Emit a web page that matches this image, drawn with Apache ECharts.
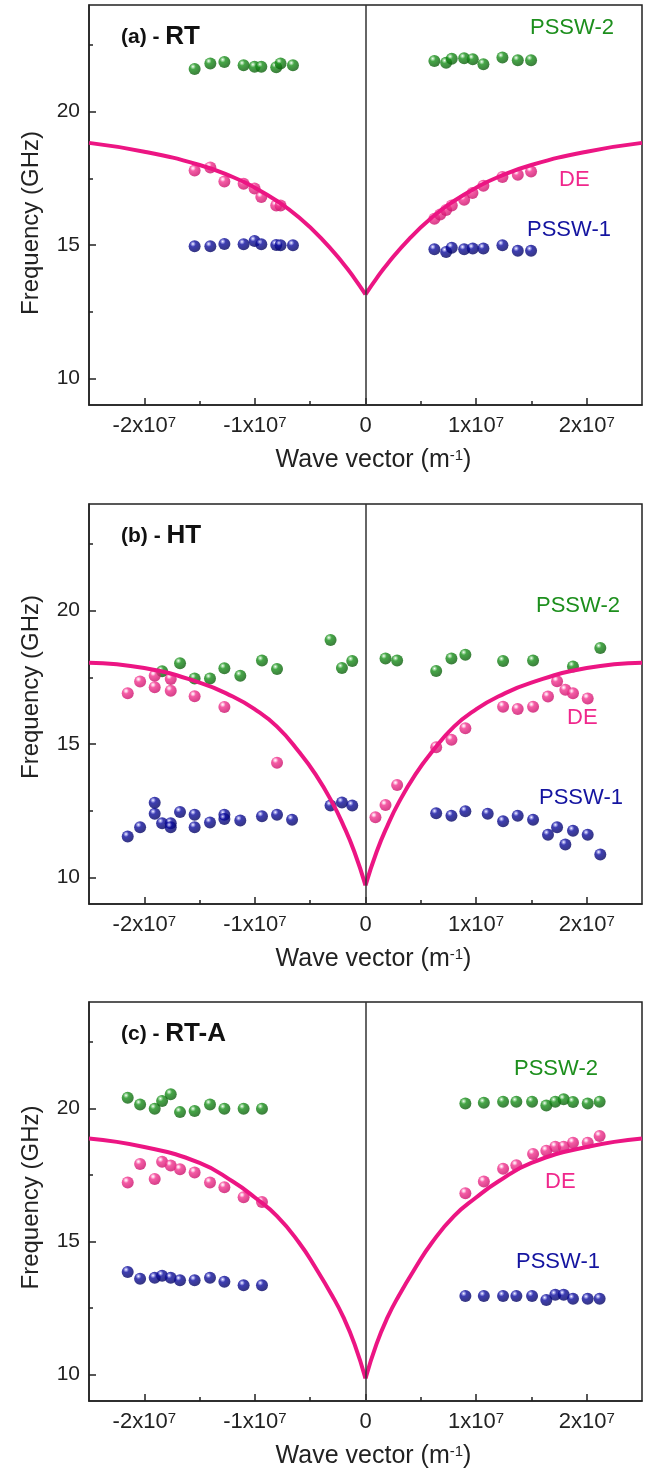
<!DOCTYPE html>
<html><head><meta charset="utf-8">
<script src="https://cdn.jsdelivr.net/npm/echarts@6/dist/echarts.min.js"></script>
<style>html,body{margin:0;padding:0;background:#fff}#c{width:645px;height:1470px}</style>
</head><body><div id="c"></div>
<script>
// ---------- data (k in units of 10^7 m^-1, f in GHz) ----------
const xTickValues = [-2, -1, 0, 1, 2];
const xMinorTicks = [-1.5, -0.5, 0.5, 1.5];
const yTickValues = [10, 15, 20];
const yMinorTicks = [12.5, 17.5, 22.5];
const panelTags = ['(a) - ', '(b) - ', '(c) - '];
const panelNames = ['RT', 'HT', 'RT-A'];
const seriesNames = ['PSSW-2', 'DE', 'PSSW-1'];

// Panel (a) RT
const aPSSW2 = [[-1.545,21.60],[-1.403,21.81],[-1.276,21.86],[-1.102,21.74],[-1.003,21.68],[-0.942,21.68],[-0.807,21.67],[-0.768,21.81],[-0.656,21.74],
  [0.623,21.90],[0.729,21.83],[0.780,21.98],[0.892,22.00],[0.970,21.97],[1.066,21.78],[1.238,22.03],[1.377,21.93],[1.497,21.93]];
const aDE = [[-1.545,17.79],[-1.403,17.91],[-1.276,17.38],[-1.102,17.30],[-1.003,17.12],[-0.942,16.80],[-0.807,16.48],[-0.768,16.48],
  [0.623,15.98],[0.675,16.14],[0.729,16.31],[0.780,16.48],[0.892,16.70],[0.967,16.95],[1.066,17.22],[1.238,17.55],[1.377,17.63],[1.497,17.76]];
const aPSSW1 = [[-1.545,14.95],[-1.403,14.95],[-1.276,15.04],[-1.102,15.03],[-1.003,15.15],[-0.942,15.03],[-0.807,15.00],[-0.768,14.99],[-0.656,14.99],
  [0.623,14.84],[0.729,14.74],[0.780,14.90],[0.892,14.84],[0.970,14.87],[1.066,14.87],[1.238,14.99],[1.377,14.78],[1.497,14.78]];
const aFitLeft = [[-2.5,18.83],[-2.0,18.5],[-1.5,18.0],[-1.2,17.55],[-1.0,17.15],[-0.8,16.65],[-0.6,16.03],[-0.4,15.25],[-0.2,14.3],[-0.1,13.75],[0,13.15]];
const aFitRight = [[0,13.15],[0.1,13.75],[0.2,14.3],[0.4,15.25],[0.6,16.03],[0.8,16.65],[1.0,17.15],[1.2,17.55],[1.5,18.0],[2.0,18.5],[2.5,18.83]];

// Panel (b) HT
const bPSSW2 = [[-1.839,17.73],[-1.677,18.03],[-1.545,17.46],[-1.406,17.46],[-1.276,17.84],[-1.132,17.56],[-0.936,18.13],[-0.800,17.81],[-0.316,18.90],[-0.213,17.85],[-0.120,18.11],
  [0.181,18.21],[0.286,18.13],[0.639,17.74],[0.777,18.21],[0.903,18.35],[1.244,18.11],[1.515,18.13],[1.876,17.91],[2.123,18.60]];
const bDE = [[-2.150,16.90],[-2.038,17.34],[-1.906,17.56],[-1.906,17.13],[-1.761,17.44],[-1.761,17.00],[-1.545,16.79],[-1.276,16.39],[-0.800,14.30],
  [0.090,12.25],[0.181,12.71],[0.286,13.46],[0.639,14.88],[0.777,15.16],[0.903,15.59],[1.244,16.40],[1.376,16.31],[1.515,16.40],[1.650,16.78],[1.732,17.35],[1.807,17.03],[1.876,16.90],[2.009,16.71]];
const bPSSW1 = [[-2.150,11.53],[-2.038,11.88],[-1.906,12.80],[-1.906,12.38],[-1.839,12.03],[-1.761,12.03],[-1.761,11.88],[-1.677,12.45],[-1.545,12.35],[-1.545,11.88],[-1.406,12.06],[-1.276,12.35],[-1.276,12.19],[-1.132,12.13],[-0.936,12.29],[-0.800,12.35],[-0.664,12.16],[-0.316,12.69],[-0.213,12.81],[-0.120,12.69],
  [0.639,12.40],[0.777,12.31],[0.903,12.48],[1.105,12.38],[1.244,12.10],[1.376,12.31],[1.515,12.16],[1.650,11.60],[1.732,11.88],[1.807,11.23],[1.876,11.75],[2.009,11.60],[2.123,10.86]];
const bFitLeft = [[-2.5,18.05],[-2.0,17.85],[-1.5,17.3],[-1.2,16.78],[-1.0,16.3],[-0.8,15.65],[-0.6,14.7],[-0.45,13.85],[-0.3,12.8],[-0.2,11.95],[-0.1,10.95],[0,9.7]];
const bFitRight = [[0,9.7],[0.1,10.95],[0.2,11.95],[0.3,12.8],[0.45,13.85],[0.6,14.7],[0.8,15.65],[1.0,16.3],[1.2,16.78],[1.5,17.3],[2.0,17.85],[2.5,18.05]];

// Panel (c) RT-A
const cPSSW2 = [[-2.150,20.40],[-2.038,20.15],[-1.906,19.99],[-1.839,20.28],[-1.761,20.53],[-1.677,19.86],[-1.545,19.90],[-1.406,20.15],[-1.276,19.99],[-1.102,19.99],[-0.936,19.99],
  [0.903,20.18],[1.070,20.21],[1.244,20.25],[1.364,20.25],[1.506,20.25],[1.635,20.11],[1.716,20.25],[1.792,20.34],[1.876,20.24],[2.009,20.18],[2.117,20.25]];
const cDE = [[-2.150,17.21],[-2.038,17.91],[-1.906,17.35],[-1.839,17.99],[-1.761,17.85],[-1.677,17.71],[-1.545,17.59],[-1.406,17.21],[-1.276,17.04],[-1.102,16.66],[-0.936,16.48],
  [0.903,16.81],[1.070,17.25],[1.244,17.73],[1.364,17.86],[1.515,18.29],[1.635,18.41],[1.716,18.56],[1.792,18.56],[1.876,18.71],[2.009,18.71],[2.117,18.96]];
const cPSSW1 = [[-2.150,13.85],[-2.038,13.60],[-1.906,13.63],[-1.839,13.71],[-1.761,13.63],[-1.677,13.54],[-1.545,13.54],[-1.406,13.63],[-1.276,13.48],[-1.102,13.35],[-0.936,13.35],
  [0.903,12.95],[1.070,12.95],[1.244,12.95],[1.364,12.95],[1.506,12.95],[1.635,12.80],[1.716,12.99],[1.792,12.99],[1.876,12.84],[2.009,12.84],[2.117,12.84]];
const cFitLeft = [[-2.5,18.87],[-2.0,18.55],[-1.5,17.95],[-1.2,17.25],[-1.0,16.65],[-0.8,15.95],[-0.6,14.95],[-0.45,14.0],[-0.3,12.95],[-0.2,12.15],[-0.1,11.15],[0,9.85]];
const cFitRight = [[0,9.85],[0.1,11.15],[0.2,12.15],[0.3,12.95],[0.45,14.0],[0.6,14.95],[0.8,15.95],[1.0,16.65],[1.2,17.25],[1.5,17.95],[2.0,18.55],[2.5,18.87]];

// ---------- styling / layout ----------
const FONT = '"Liberation Sans", Arial, Helvetica, sans-serif';
const AX = '#222';
const GREEN = '#1d8f1d', BLUE = '#1414a0', PINK = '#f0288c', LINE = '#ec1583';
function sphere(light, mid, dark) {
  return {type:'radial', x:0.36, y:0.3, r:0.75, colorStops:[
    {offset:0, color:'#ffffff'}, {offset:0.12, color:light}, {offset:0.32, color:mid}, {offset:1, color:dark}]};
}
const SPH_G = sphere('#9ad89a', '#18901a', '#0a5a0a');
const SPH_B = sphere('#9898ea', '#0e0e9e', '#03035e');
const SPH_P = sphere('#ffc0e0', '#f2348f', '#c80c68');

const panels = [
  {g:aPSSW2, p:aDE, b:aPSSW1, fl:aFitLeft, fr:aFitRight},
  {g:bPSSW2, p:bDE, b:bPSSW1, fl:bFitLeft, fr:bFitRight},
  {g:cPSSW2, p:cDE, b:cPSSW1, fl:cFitLeft, fr:cFitRight}
];
const gridTops = [5, 504, 1002];
const yNamePad = [[0,36,0,0],[0,0,0,34],[0,0,0,8]];
const labelPos = [
  [[530,28],[559,180],[527,230]],
  [[536,606],[567,718],[539,798]],
  [[514,1069],[545,1182],[516,1262]]
];

const grid = [], xAxis = [], yAxis = [], series = [], title = [], graphic = [];
panels.forEach((pn, i) => {
  grid.push({left:89, right:3, top:gridTops[i], height:400, show:true, borderColor:AX, borderWidth:1.5, backgroundColor:'transparent'});
  xAxis.push({gridIndex:i, type:'value', min:-2.5, max:2.5, position:'bottom',
    axisLine:{show:true, onZero:false, lineStyle:{color:AX, width:1.5}},
    axisTick:{show:true, inside:true, length:7, customValues:xTickValues, lineStyle:{color:AX, width:1.5}},
    axisLabel:{customValues:xTickValues, margin:10, color:AX, fontFamily:FONT, fontSize:22,
      formatter: v => v === 0 ? '{n|0}' : '{n|' + v + 'x10}{s|7}',
      rich:{n:{fontSize:22, fontFamily:FONT, color:AX}, s:{fontSize:15, fontFamily:FONT, color:AX, verticalAlign:'top'}}},
    splitLine:{show:false},
    name:'{n|Wave vector (m}{s|-1}{n|)}', nameLocation:'middle', nameGap:43,
    nameTextStyle:{color:AX, fontFamily:FONT, fontSize:25, padding:[0,0,0,16],
      rich:{n:{fontSize:25, fontFamily:FONT, color:AX}, s:{fontSize:15, fontFamily:FONT, color:AX, verticalAlign:'top'}}}
  });
  xAxis.push({gridIndex:i, type:'value', min:-2.5, max:2.5, position:'bottom',
    axisLine:{show:false, onZero:false},
    axisTick:{show:true, inside:true, length:4, customValues:xMinorTicks, lineStyle:{color:AX, width:1.5}},
    axisLabel:{show:false}, splitLine:{show:false}});
  yAxis.push({gridIndex:i, type:'value', min:9, max:24, position:'left',
    axisLine:{show:true, onZero:false, lineStyle:{color:AX, width:1.5}},
    axisTick:{show:true, inside:true, length:7, customValues:yTickValues, lineStyle:{color:AX, width:1.5}},
    axisLabel:{customValues:yTickValues, margin:9, color:AX, fontFamily:FONT, fontSize:21},
    splitLine:{show:false},
    name:'Frequency (GHz)', nameLocation:'middle', nameGap:46, nameRotate:90,
    nameTextStyle:{color:AX, fontFamily:FONT, fontSize:24, padding:yNamePad[i]}
  });
  yAxis.push({gridIndex:i, type:'value', min:9, max:24, position:'left',
    axisLine:{show:false, onZero:false},
    axisTick:{show:true, inside:true, length:4, customValues:yMinorTicks, lineStyle:{color:AX, width:1.5}},
    axisLabel:{show:false}, splitLine:{show:false}});

  const xi = 2*i, yi = 2*i;
  series.push({type:'scatter', name:seriesNames[0], xAxisIndex:xi, yAxisIndex:yi, data:pn.g, symbolSize:12, z:3,
    itemStyle:{color:SPH_G}, silent:true,
    markLine:{silent:true, symbol:'none', label:{show:false}, lineStyle:{color:'#333', width:1.5, type:'solid'}, data:[{xAxis:0}]}});
  series.push({type:'scatter', name:seriesNames[1], xAxisIndex:xi, yAxisIndex:yi, data:pn.p, symbolSize:12, z:3,
    itemStyle:{color:SPH_P}, silent:true});
  series.push({type:'scatter', name:seriesNames[2], xAxisIndex:xi, yAxisIndex:yi, data:pn.b, symbolSize:12, z:3,
    itemStyle:{color:SPH_B}, silent:true});
  [pn.fl, pn.fr].forEach(d => series.push({type:'line', xAxisIndex:xi, yAxisIndex:yi, data:d, showSymbol:false, symbol:'none',
    smooth:0.5, z:4, silent:true, lineStyle:{color:LINE, width:4}}));

  title.push({text:'{a|' + panelTags[i] + '}{b|' + panelNames[i] + '}', left:116, top:gridTops[i] + 14,
    textStyle:{rich:{a:{fontSize:21, fontWeight:'bold', fontFamily:FONT, color:'#111'}, b:{fontSize:26, fontWeight:'bold', fontFamily:FONT, color:'#111'}}}});

  const cols = [GREEN, PINK, BLUE];
  labelPos[i].forEach((pos, j) => graphic.push({type:'text', x:pos[0], y:pos[1], silent:true,
    style:{text:seriesNames[j], fill:cols[j], font:'22px ' + FONT, align:'left', verticalAlign:'middle'}}));
});

const chart = echarts.init(document.getElementById('c'), null, {renderer:'canvas'});
chart.setOption({animation:false, backgroundColor:'#fff', title, grid, xAxis, yAxis, series, graphic});
</script></body></html>
